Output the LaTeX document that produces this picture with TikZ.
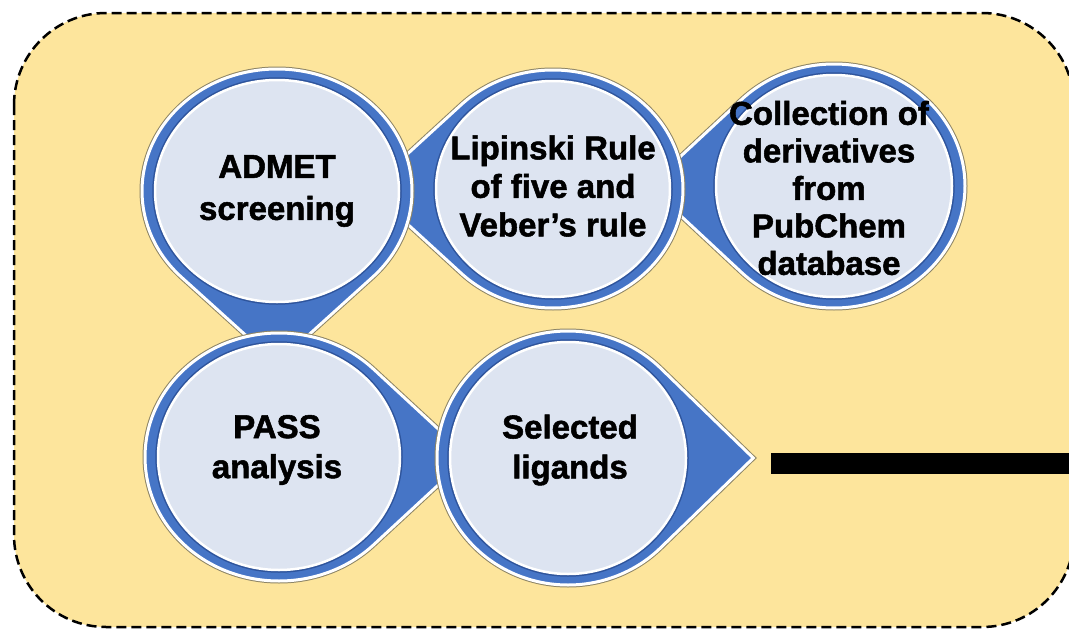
\documentclass[tikz,border=0pt]{standalone}
\usepackage{fontspec}
\setmainfont{Liberation Sans}[BoldFeatures={FakeBold=1.6}]
\usetikzlibrary{calc}
\definecolor{bgyellow}{HTML}{FDE59C}
\definecolor{tearblue}{HTML}{4675C6}
\definecolor{tearlight}{HTML}{DDE4F1}
\definecolor{teardark}{HTML}{2E549C}
\definecolor{edgegray}{HTML}{8C8466}
\tikzset{
  frame/.style={fill=bgyellow, draw=black, dash pattern=on 10pt off 5pt, line width=2.5pt, rounded corners=92pt},
  tearshape/.style={fill=tearblue, draw=white, line width=3pt, preaction={draw=edgegray, line width=5pt}},
  tearinner/.style={fill=tearlight, draw=white, line width=2.5pt, preaction={draw=teardark, line width=5.5pt}},
  steptext/.style={font=\bfseries\fontsize{33}{#1}\selectfont, align=center, text=black, inner sep=0pt},
  steptext/.default=40,
  barline/.style={line width=21pt, black}
}
% cx cy rx ry direction name
\newcommand\teardrop[6]{%
  \pgfmathsetmacro\tipx{#1+1.4142*#3*cos(#5)}%
  \pgfmathsetmacro\tipy{#2+1.4142*#4*sin(#5)}%
  \coordinate (#6tip) at (\tipx,\tipy);%
  \path[tearshape] (#1,#2) ++(#5+45:#3 and #4)
     arc[start angle=#5+45, end angle=#5+315, x radius=#3, y radius=#4]
     -- (#6tip) -- cycle;%
  \path[tearinner] (#1,#2) ellipse[x radius=#3-13, y radius=#4-11];%
}
\begin{document}
\begin{tikzpicture}[x=1pt, y=-1pt]
\useasboundingbox (0,0) rectangle (1069,629);
\path[frame] (14,13) rectangle (1074,627);

\teardrop{834}{186}{131}{122}{180}{coll}
\node[steptext=37.5] (coll) at (829,188) {Collection of\\derivatives\\from\\PubChem\\database};

\teardrop{553}{189}{130}{119}{180}{lip}
\node[steptext=38.5] (lip) at (553,186) {Lipinski Rule\\of five and\\Veber’s rule};

\teardrop{277}{191}{135}{122}{90}{adm}
\node[steptext=42] (adm) at (277,191) {ADMET\\screening};

\teardrop{279}{457}{134}{124}{0}{pass}
\node[steptext=40] (pass) at (277,450) {PASS\\analysis};

\teardrop{568}{458}{131}{127}{0}{sel}
\node[steptext=40] (sel) at (570,450) {Selected\\ligands};

\coordinate (barL) at (771,463);
\coordinate (barR) at (1075,463);
\draw[barline] (barL) -- (barR);
\end{tikzpicture}
\end{document}
